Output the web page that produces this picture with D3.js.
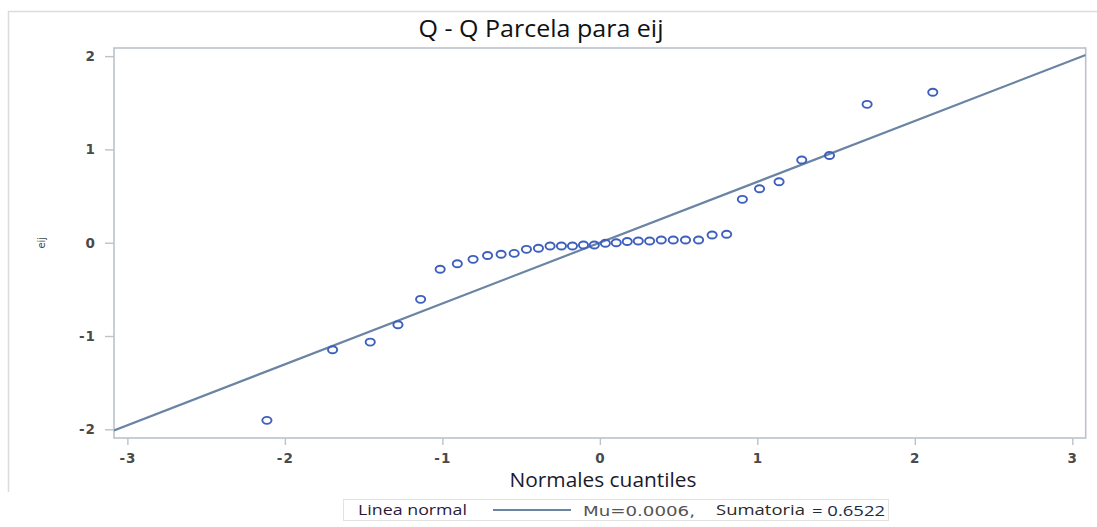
<!DOCTYPE html>
<html>
<head>
<meta charset="utf-8">
<script src="https://cdn.jsdelivr.net/npm/d3@7"></script>
<style>
  html, body { margin: 0; padding: 0; background: #fff; }
  svg { display: block; }
</style>
</head>
<body>
<svg id="chart" width="1097" height="527"></svg>
<script>
// Normal quantiles (x) and ordered residuals eij (y)
const normalQuantiles = [
  -2.114, -1.697, -1.458, -1.282, -1.138, -1.014, -0.905, -0.805, -0.713,
  -0.627, -0.544, -0.466, -0.390, -0.316, -0.244, -0.174, -0.104, -0.035,
   0.035,  0.104,  0.174,  0.244,  0.316,  0.390,  0.466,  0.544,  0.627,
   0.713,  0.805,  0.905,  1.014,  1.138,  1.282,  1.458,  1.697,  2.114
];
const residuals = [
  -1.904, -1.147, -1.065, -0.879, -0.607, -0.285, -0.225, -0.178, -0.137,
  -0.124, -0.114, -0.071, -0.060, -0.035, -0.035, -0.035, -0.025, -0.025,
  -0.006,  0.000,  0.013,  0.018,  0.018,  0.029,  0.029,  0.029,  0.029,
   0.083,  0.090,  0.465,  0.579,  0.654,  0.886,  0.935,  1.483,  1.612
];
const xTicks = [-3, -2, -1, 0, 1, 2, 3];
const yTicks = [-2, -1, 0, 1, 2];

// Reference normal line
const mu = 0.0006;
const sumatoria = 0.6522;

const titleText = "Q - Q Parcela para eij";
const xLabel = "Normales cuantiles";
const yLabel = "eij";
const legendLabel = "Linea normal";
const legendMu = "Mu=0.0006,";
const legendSum = "Sumatoria";
const legendSumValue = "= 0.6522";

const svg = d3.select("#chart");

const plot = { left: 114, right: 1085.7, top: 48, bottom: 438 };

const x = d3.scaleLinear().domain([-3.085, 3.085]).range([plot.left, plot.right]);
const y = d3.scaleLinear().domain([-2.093, 2.087]).range([plot.bottom, plot.top]);

const frameColor = "#bcc2ca";
const tickTextColor = "#4a4a4a";

// outer panel border
svg.append("path")
  .attr("d", "M1097,11.5 H8.5 V492")
  .attr("fill", "none")
  .attr("stroke", "#dcdcdc")
  .attr("stroke-width", 1.5);

// title
svg.append("text")
  .attr("x", 541)
  .attr("y", 37)
  .attr("text-anchor", "middle")
  .attr("font-family", "'Open Sans', 'Noto Sans', sans-serif")
  .attr("font-size", 23)
  .attr("textLength", 245)
  .attr("lengthAdjust", "spacingAndGlyphs")
  .attr("fill", "#111")
  .text(titleText);

// plot frame
svg.append("rect")
  .attr("x", plot.left)
  .attr("y", plot.top)
  .attr("width", plot.right - plot.left)
  .attr("height", plot.bottom - plot.top)
  .attr("fill", "#fff")
  .attr("stroke", frameColor)
  .attr("stroke-width", 1.6);

// axes
const fmt = d => String(d);
const xAxis = svg.append("g")
  .attr("transform", `translate(0,${plot.bottom})`)
  .call(d3.axisBottom(x).tickValues(xTicks).tickSize(7).tickPadding(8).tickFormat(fmt));
const yAxis = svg.append("g")
  .attr("transform", `translate(${plot.left},0)`)
  .call(d3.axisLeft(y).tickValues(yTicks).tickSize(9).tickPadding(9).tickFormat(fmt));

[xAxis, yAxis].forEach(g => {
  g.select(".domain").remove();
  g.selectAll(".tick line").attr("stroke", frameColor).attr("stroke-width", 1.4);
  g.selectAll(".tick text")
    .attr("fill", tickTextColor)
    .attr("font-family", "'DejaVu Sans', Verdana, sans-serif")
    .attr("font-weight", "bold")
    .attr("font-size", 13.5)
    .attr("letter-spacing", 1);
});
xAxis.selectAll(".tick text").attr("dy", "0.71em");

// axis labels
svg.append("text")
  .attr("x", 603)
  .attr("y", 487)
  .attr("text-anchor", "middle")
  .attr("font-family", "'Open Sans', 'Noto Sans', sans-serif")
  .attr("font-size", 20)
  .attr("textLength", 187)
  .attr("lengthAdjust", "spacingAndGlyphs")
  .attr("fill", "#1a1a2e")
  .text(xLabel);

svg.append("text")
  .attr("transform", `translate(45,${y(0)}) rotate(-90)`)
  .attr("text-anchor", "middle")
  .attr("font-family", "'DejaVu Sans', sans-serif")
  .attr("font-size", 10)
  .attr("fill", "#444")
  .text(yLabel);

svg.append("clipPath").attr("id", "plot-clip")
  .append("rect")
  .attr("x", plot.left).attr("y", plot.top)
  .attr("width", plot.right - plot.left).attr("height", plot.bottom - plot.top);

// normal reference line across the full domain
const lineGen = d3.line().x(d => x(d)).y(d => y(mu + sumatoria * d));
svg.append("path")
  .datum(x.domain())
  .attr("clip-path", "url(#plot-clip)")
  .attr("d", lineGen)
  .attr("fill", "none")
  .attr("stroke", "#6a84a4")
  .attr("stroke-width", 2.2);

// observed points
svg.append("g")
  .selectAll("ellipse")
  .data(normalQuantiles.map((q, i) => ({ q, e: residuals[i] })))
  .join("ellipse")
  .attr("cx", d => x(d.q))
  .attr("cy", d => y(d.e))
  .attr("rx", 4.6)
  .attr("ry", 3.5)
  .attr("fill", "none")
  .attr("stroke", "#3d5fbd")
  .attr("stroke-width", 1.9);

// legend
const legend = svg.append("g");
legend.append("rect")
  .attr("x", 343.5).attr("y", 499.5)
  .attr("width", 545).attr("height", 21)
  .attr("fill", "#fff")
  .attr("stroke", "#e2e2e2");
legend.append("text")
  .attr("x", 358).attr("y", 515)
  .attr("font-family", "'Open Sans', 'Noto Sans', sans-serif")
  .attr("font-size", 15)
  .attr("textLength", 109)
  .attr("lengthAdjust", "spacingAndGlyphs")
  .attr("fill", "#2a1a3a")
  .text(legendLabel);
legend.append("line")
  .attr("x1", 493).attr("x2", 571)
  .attr("y1", 510).attr("y2", 510)
  .attr("stroke", "#6a84a4")
  .attr("stroke-width", 2.2);
legend.append("text")
  .attr("x", 583).attr("y", 516)
  .attr("font-family", "'DejaVu Sans', Verdana, sans-serif")
  .attr("font-size", 14)
  .attr("textLength", 112)
  .attr("lengthAdjust", "spacingAndGlyphs")
  .attr("fill", "#555")
  .text(legendMu);
legend.append("text")
  .attr("x", 716).attr("y", 515)
  .attr("font-family", "'Open Sans', 'Noto Sans', sans-serif")
  .attr("font-size", 15)
  .attr("textLength", 89)
  .attr("lengthAdjust", "spacingAndGlyphs")
  .attr("fill", "#2a2a2a")
  .text(legendSum);
legend.append("text")
  .attr("x", 812).attr("y", 516)
  .attr("font-family", "'Open Sans', 'Noto Sans', sans-serif")
  .attr("font-size", 15)
  .attr("textLength", 73)
  .attr("lengthAdjust", "spacingAndGlyphs")
  .attr("fill", "#1c2a4a")
  .text(legendSumValue);
</script>
</body>
</html>
